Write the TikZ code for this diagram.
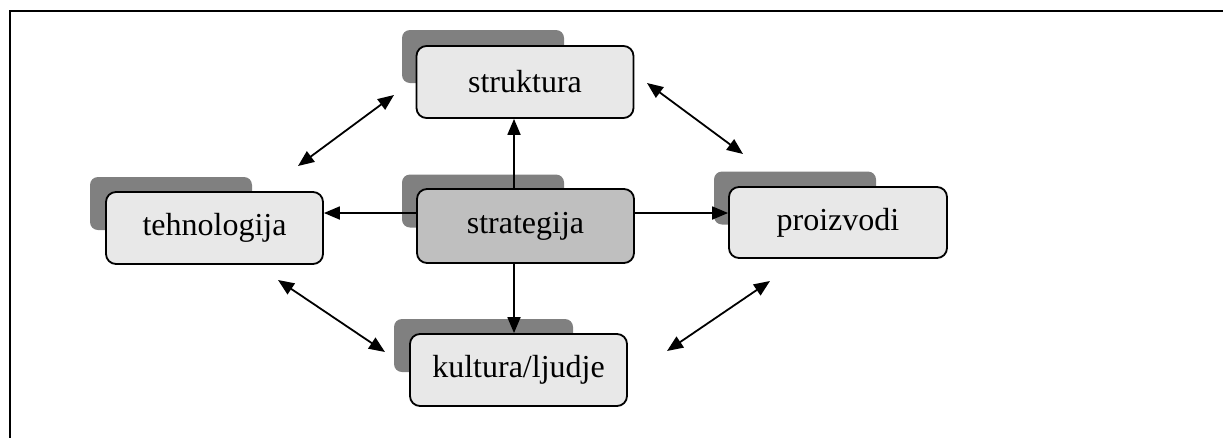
\documentclass[tikz,border=0pt]{standalone}
\usepackage{fontspec}
\setmainfont{Liberation Serif}
\usetikzlibrary{arrows.meta}
\begin{document}
\begin{tikzpicture}[x=1pt,y=-1pt,
  card/.style={draw=black,line width=1.8pt,rounded corners=10pt,fill=black!9,
    minimum width=217pt,minimum height=72pt,inner sep=0pt,font=\fontsize{32}{38}\selectfont},
  cardback/.style={fill=black!50,draw=none,rounded corners=8pt,
    minimum width=162pt,minimum height=53pt,inner sep=0pt},
  link/.style={line width=1.8pt,-{Triangle[length=16pt,width=13pt]}},
  dlink/.style={line width=1.8pt,{Triangle[length=16pt,width=13pt]}-{Triangle[length=16pt,width=13pt]}}]
\useasboundingbox (0,0) rectangle (1223,437);
% frame
\draw[line width=2pt] (10,440) -- (10,11) -- (1226,11);
% back plates
\node[cardback] (strukt-b) at (483,56.5) {};
\node[cardback] (strat-b) at (483,201) {};
\node[cardback] (tech-b) at (171,203.5) {};
\node[cardback] (proiz-b) at (795,198) {};
\node[cardback,minimum width=179pt] (kult-b) at (483.5,345.5) {};
% cards
\node[card] (strukt) at (525,82) {struktura};
\node[card,fill=black!25,minimum height=74pt] (strat) at (525.5,226) {strategija};
\node[card] (tech) at (214.5,228) {tehnologija};
\node[card,minimum width=218pt,minimum height=71pt] (proiz) at (838,222.5) {proizvodi};
\node[card] (kult) at (518.5,370) {kultura/ljudje};
% connectors from the centre
\coordinate (vx) at (514,0);
\coordinate (hy) at (0,213);
\draw[link] (strat.north -| vx) -- (strukt.south -| vx);
\draw[link] (strat.south -| vx) -- (kult.north -| vx);
\draw[link] (strat.west |- hy) -- (tech.east |- hy);
\draw[link] (strat.east |- hy) -- (proiz.west |- hy);
% mutual links around the ring
\coordinate (ul1) at (298,166); \coordinate (ul2) at (394,95);
\coordinate (ur1) at (647,83);  \coordinate (ur2) at (743,154);
\coordinate (ll1) at (278,280); \coordinate (ll2) at (385,352);
\coordinate (lr1) at (770,281); \coordinate (lr2) at (667,351);
\draw[dlink] (ul1) -- (ul2);
\draw[dlink] (ur1) -- (ur2);
\draw[dlink] (ll1) -- (ll2);
\draw[dlink] (lr1) -- (lr2);
\end{tikzpicture}
\end{document}
